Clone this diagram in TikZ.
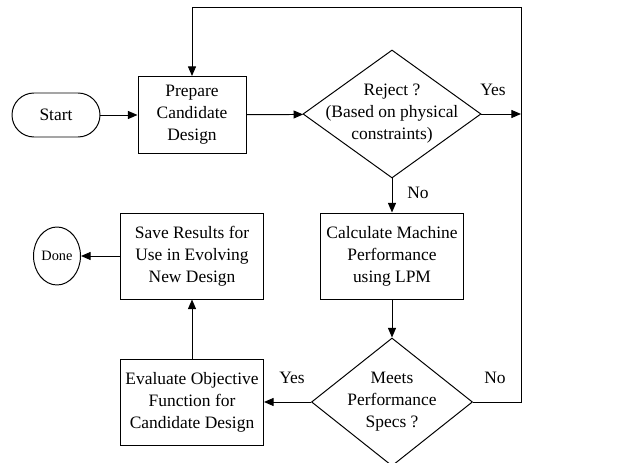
\documentclass[tikz,border=0pt]{standalone}
\usepackage{fontspec}
\setmainfont{Liberation Serif}
\usetikzlibrary{shapes.geometric, arrows.meta, positioning}
\newcommand{\flowfont}{\fontsize{12.4}{15.6}\selectfont}
\tikzset{
  block/.style={rectangle, draw, line width=0.7pt, minimum width=3.575cm, minimum height=2.15cm, align=center, inner sep=1pt, font=\flowfont},
  terminal/.style={rectangle, draw, line width=0.7pt, rounded corners=0.55cm, minimum width=2.2cm, minimum height=1.1cm, font=\flowfont},
  endstate/.style={ellipse, draw, line width=0.7pt, minimum width=1.175cm, minimum height=1.45cm, inner sep=0pt, font=\fontsize{10.2}{12}\selectfont},
  decision/.style={diamond, draw, line width=0.7pt, inner sep=0pt, minimum height=3.2cm},
  decisiontext/.style={align=center, font=\flowfont},
  lbl/.style={font=\flowfont},
  arrow/.style={-{Triangle[length=0.24cm,width=0.2cm]}, line width=0.7pt}
}
\begin{document}
\begin{tikzpicture}
  \useasboundingbox (0,0) rectangle (15.525,11.575);
  % Nodes
  \node[terminal] (start) at (1.4,8.7) {Start};
  \node[block, minimum width=2.7cm, minimum height=1.925cm] (prepare) at (4.8,8.7) {Prepare\\Candidate\\Design};
  \node[decision, minimum width=4.45cm, label={[decisiontext]center:Reject ?\\(Based on physical\\constraints)}] (reject) at (9.8,8.725) {};
  \node[block] (calc) at (9.8,5.175) {Calculate Machine\\Performance\\using LPM};
  \node[decision, minimum width=4.025cm, label={[decisiontext]center:Meets\\Performance\\Specs ?}] (meets) at (9.8,1.525) {};
  \node[block] (evaluate) at (4.8,1.525) {Evaluate Objective\\Function for\\Candidate Design};
  \node[block] (save) at (4.8,5.175) {Save Results for\\Use in Evolving\\New Design};
  \node[endstate] (done) at (1.425,5.175) {Done};
  \coordinate (loopcorner) at (13.025,11.4);

  % Connectors
  \draw[arrow] (start) -- (prepare);
  \draw[arrow] (prepare) -- (reject);
  \draw[arrow] (reject.east) -- (reject.east -| loopcorner);
  \draw[arrow] (reject) -- (calc);
  \draw[arrow] (calc) -- (meets);
  \draw[arrow] (meets) -- (evaluate);
  \draw[arrow] (evaluate) -- (save);
  \draw[arrow] (save) -- (done);
  \draw[arrow] (meets.east) -| (loopcorner) -| (prepare.north);

  % Labels
  \node[lbl] (rejectyes) at (12.325,9.325) {Yes};
  \node[lbl] (rejectno) at (10.45,6.75) {No};
  \node[lbl] (meetsyes) at (7.3,2.125) {Yes};
  \node[lbl] (meetsno) at (12.375,2.125) {No};
\end{tikzpicture}
\end{document}
